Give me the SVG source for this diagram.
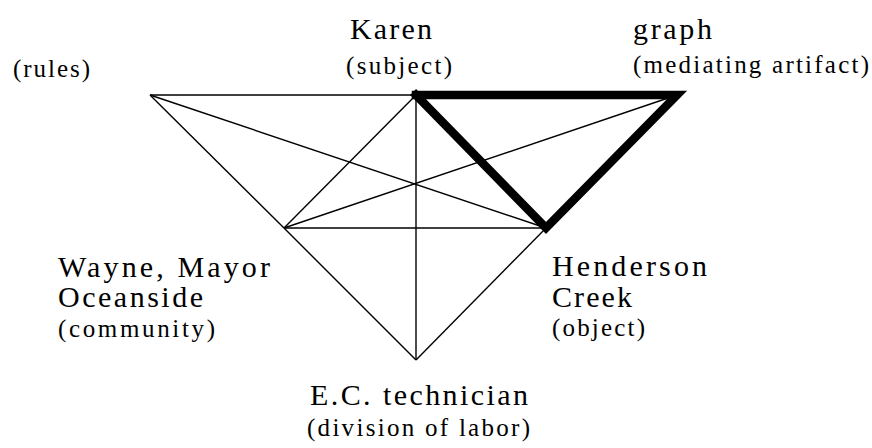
<svg xmlns="http://www.w3.org/2000/svg" width="872" height="448" viewBox="0 0 872 448">
<style>
.main{font-family:"Liberation Serif","Times New Roman",serif;font-size:30px;fill:#000}
.sub{font-family:"Liberation Serif","Times New Roman",serif;font-size:25px;fill:#000}
.thin{stroke:#000;stroke-width:1.4;fill:none}
.thick{stroke:#000;stroke-width:8.5;fill:none;stroke-linecap:square;stroke-linejoin:miter}
</style>
<rect width="872" height="448" fill="#fff"/>
<g id="connectors">
<line class="thin" x1="150" y1="95" x2="416" y2="95"/>
<line class="thin" x1="150" y1="95" x2="284" y2="228"/>
<line class="thin" x1="150" y1="95" x2="546" y2="228"/>
<line class="thin" x1="416" y1="95" x2="284" y2="228"/>
<line class="thin" x1="416" y1="95" x2="416" y2="360"/>
<line class="thin" x1="284" y1="228" x2="677" y2="95"/>
<line class="thin" x1="284" y1="228" x2="546" y2="228"/>
<line class="thin" x1="284" y1="228" x2="416" y2="360"/>
<line class="thin" x1="546" y1="228" x2="416" y2="360"/>
<polyline class="thick" points="416,95 677,95 546,228 416,95"/>
</g>
<g id="node-rules">
<text class="sub" x="13" y="77" textLength="77">(rules)</text>
</g>
<g id="node-karen">
<text class="main" x="350" y="39" textLength="82">Karen</text>
<text class="sub" x="346" y="74" textLength="106">(subject)</text>
</g>
<g id="node-graph">
<text class="main" x="633" y="39" textLength="79">graph</text>
<text class="sub" x="633" y="73" textLength="236">(mediating artifact)</text>
</g>
<g id="node-wayne">
<text class="main" x="58" y="277" textLength="212">Wayne, Mayor</text>
<text class="main" x="58" y="307" textLength="145">Oceanside</text>
<text class="sub" x="58" y="337" textLength="157">(community)</text>
</g>
<g id="node-henderson">
<text class="main" x="552" y="276" textLength="155">Henderson</text>
<text class="main" x="552" y="307" textLength="80">Creek</text>
<text class="sub" x="552" y="336" textLength="93">(object)</text>
</g>
<g id="node-technician">
<text class="main" x="310" y="405" textLength="218">E.C. technician</text>
<text class="sub" x="307" y="436" textLength="223">(division of labor)</text>
</g>
</svg>
